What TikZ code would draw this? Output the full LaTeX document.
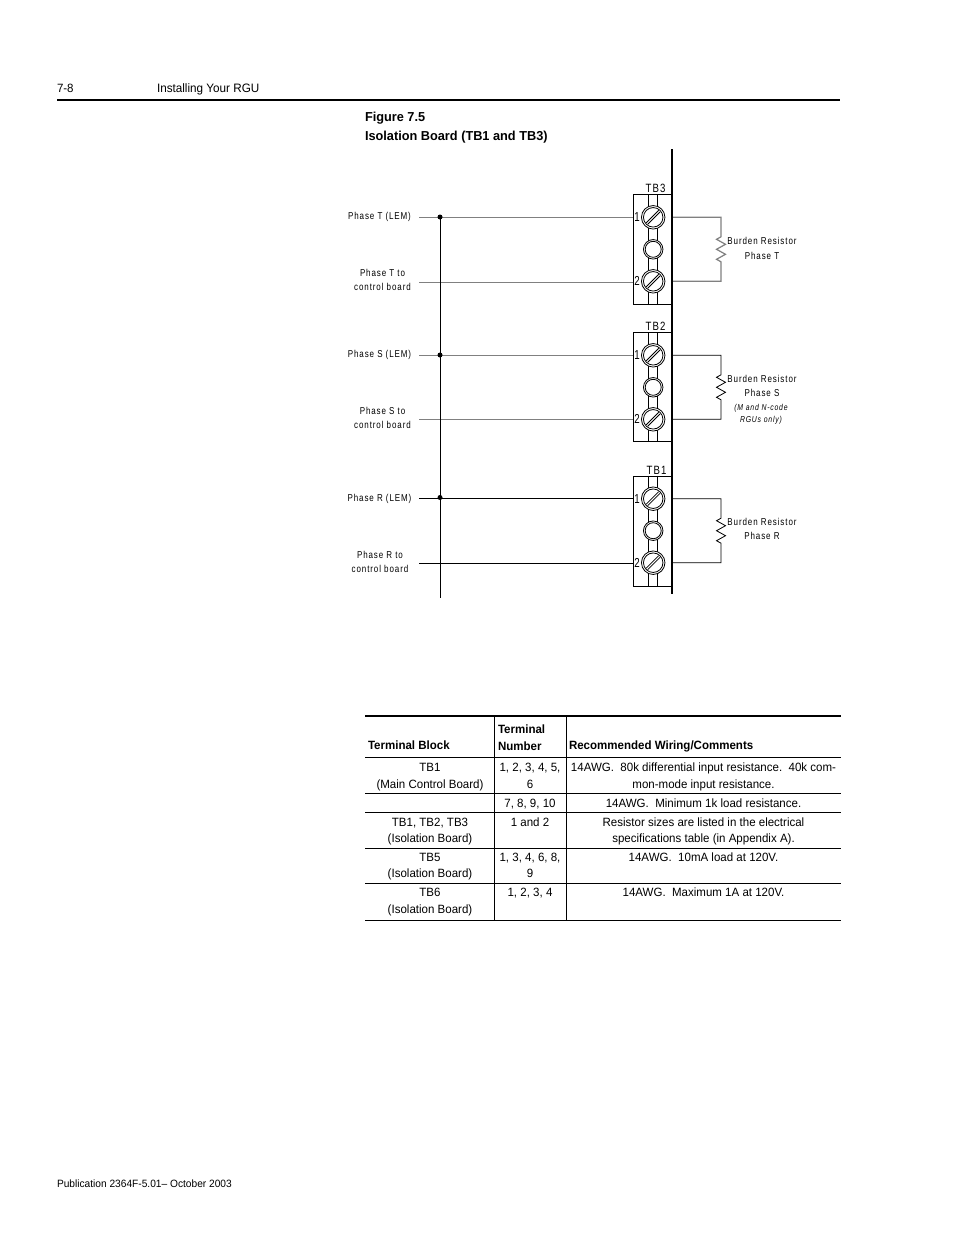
\documentclass[tikz,border=0pt]{standalone}
\usepackage{fontspec}
\setmainfont[FakeStretch=0.96]{Liberation Sans}
\newfontfamily\lblfont[LetterSpace=9,FakeStretch=0.8]{Liberation Sans}
\newfontfamily\numfont[FakeStretch=0.75]{Liberation Sans}
\newfontfamily\ttlfont[FakeStretch=0.98]{Liberation Sans}
\newcommand{\lblsize}{\fontsize{10}{14}\selectfont\lblfont}
\tikzset{
  txt/.style={inner sep=0pt,outer sep=0pt,font=\fontsize{12}{12}\selectfont},
  ctxt/.style={txt,anchor=base},
  ltxt/.style={txt,anchor=base west},
  btxt/.style={ltxt,font=\fontsize{12}{12}\selectfont\bfseries},
  ttl/.style={ltxt,font=\fontsize{13}{13}\selectfont\ttlfont\bfseries},
  lbl/.style={inner sep=0pt,anchor=base,align=center,font=\lblsize},
  tbl/.style={inner sep=0pt,anchor=base,font=\fontsize{12}{12}\selectfont\lblfont},
  num/.style={inner sep=0pt,anchor=base,font=\fontsize{13}{13}\selectfont\numfont},
  wire/.style={line width=0.8pt,black},
  gwire/.style={line width=1.2pt,black!50},
  rule/.style={line width=0.9pt,black},
  dotn/.style={circle,fill=black,inner sep=0pt,minimum size=5pt},
  screwo/.style={circle,draw=black,line width=0.8pt,fill=white,inner sep=0pt,minimum size=23.5pt},
  screwm/.style={circle,draw=black,line width=0.8pt,fill=white,inner sep=0pt,minimum size=19.5pt},
  screwi/.style={circle,draw=black,line width=0.8pt,fill=white,inner sep=0pt,minimum size=16pt},
  boxn/.style={draw=black,line width=0.9pt,fill=white,inner sep=0pt,minimum width=39pt,minimum height=#1,anchor=north west},
}
% \tblock{id}{top}{name}{right wire style}{name x}{height}
\newcommand{\tblock}[6]{%
  \node[boxn=#6] (b#1) at (632.7,#2) {};
  \draw[wire] (648.3,#2) -- ++(0,#6) (657.3,#2) -- ++(0,#6);
  \node[screwo] (sa#1) at (653.2,#2+23) {};
  \node[screwm] (sm#1) at (653.2,#2+55) {};
  \node[screwi] at (sm#1) {};
  \node[screwo] (sb#1) at (653.2,#2+87) {};
  \node[screwm] at (sa#1) {};
  \node[screwm] at (sb#1) {};
  \foreach \s in {sa#1,sb#1} {
    \draw[wire] ([shift={(-7,5.5)}]\s.center) -- ([shift={(5.5,-7)}]\s.center);
    \draw[wire] ([shift={(-5.5,7)}]\s.center) -- ([shift={(7,-5.5)}]\s.center);
  }
  \node[num] at (637.2,#2+27.5) {1};
  \node[num] at (637.2,#2+91.5) {2};
  \node[tbl] at (#5,#2-1.6) {#3};
  \coordinate (ra#1) at (721,#2+23);
  \coordinate (rb#1) at (721,#2+87);
  \draw[#4] (671,#2+23) -- (ra#1) -- ++(0,19.5) -- ++(-4.5,2.5) -- ++(9,5) -- ++(-9,5) -- ++(9,5) -- ++(-9,5) -- ++(4.5,2.5) -- (rb#1) -- (671,#2+87);
}
\begin{document}
\begin{tikzpicture}[x=1pt,y=-1pt]
\useasboundingbox (0,0) rectangle (954,1235);
\fill[white] (0,0) rectangle (954,1235);
% page header
\node[ltxt] (pg) at (57,92.5) {7-8};
\node[ltxt,font=\fontsize{12.2}{12}\selectfont] (hd) at (157,92.5) {Installing Your RGU};
\draw[line width=1.6pt] (57,100) -- (840,100);
\node[ttl] (f1) at (365,121) {Figure 7.5};
\node[ttl] (f2) at (365,140) {Isolation Board (TB1 and TB3)};
% vertical bus and bar
\coordinate (bustop) at (440,217);
\coordinate (busbot) at (440,598);
\tblock{3}{194.3}{TB3}{gwire}{655.5}{110}
\tblock{2}{332.3}{TB2}{wire}{655.5}{109}
\tblock{1}{475.7}{TB1}{wire}{656.5}{110}
\draw[line width=2.4pt] (672,149) -- (672,594);
% left wires
\coordinate (l1) at (419,217);
\coordinate (l2) at (419,282);
\coordinate (l3) at (419,355);
\coordinate (l4) at (419,419);
\coordinate (l5) at (419,498);
\coordinate (l6) at (419,563);
\draw[gwire,line width=1pt] (l1) -- (b3.west |- l1);
\draw[gwire,line width=1pt] (l2) -- (b3.west |- l2);
\draw[gwire,line width=1pt] (l3) -- (b2.west |- l3);
\draw[gwire,line width=1pt] (l4) -- (b2.west |- l4);
\draw[wire] (l5) -- (b1.west |- l5);
\draw[wire] (l6) -- (b1.west |- l6);
\draw[line width=1pt] (bustop) -- (busbot);
\node[dotn] (d1) at (440,217) {};
\node[dotn] (d2) at (440,355) {};
\node[dotn] (d3) at (440,497.5) {};
% labels left
\node[lbl] (a1) at (379.5,219.5) {Phase T (LEM)};
\node[lbl] (a2) at (382.5,276.5) {Phase T to};
\node[lbl] (a3) at (382.5,290.5) {control board};
\node[lbl] (a4) at (379.5,357.5) {Phase S (LEM)};
\node[lbl] (a5) at (382.5,414.5) {Phase S to};
\node[lbl] (a6) at (382.5,428.5) {control board};
\node[lbl] (a7) at (379.5,501) {Phase R (LEM)};
\node[lbl] (a8) at (380,558.5) {Phase R to};
\node[lbl] (a9) at (380,572.5) {control board};
% labels right
\node[lbl] (r1) at (762,244.5) {Burden Resistor};
\node[lbl] (r2) at (762,259.5) {Phase T};
\node[lbl] (r3) at (762,382.5) {Burden Resistor};
\node[lbl] (r4) at (762,396.5) {Phase S};
\node[inner sep=0pt,anchor=base,font=\fontsize{8.6}{10}\selectfont\itshape\lblfont] (r5) at (761,410) {(M and N-code};
\node[inner sep=0pt,anchor=base,font=\fontsize{8.6}{10}\selectfont\itshape\lblfont] (r6) at (761,422) {RGUs only)};
\node[lbl] (r7) at (762,525.5) {Burden Resistor};
\node[lbl] (r8) at (762,539.5) {Phase R};
% table
\draw[line width=1.6pt] (365,716) -- (841,716);
\foreach \yy in {757,793.5,812,848.5,883,920} \draw[rule] (365,\yy) -- (841,\yy);
\draw[rule] (494.5,716) -- (494.5,920);
\draw[rule] (566.3,716) -- (566.3,920);
\node[btxt] at (368,749) {Terminal Block};
\node[btxt] at (498,733) {Terminal};
\node[btxt] at (498,750) {Number};
\node[btxt] at (569,749) {Recommended Wiring/Comments};
\node[ctxt] at (430,771) {TB1};
\node[ctxt] at (430,788) {(Main Control Board)};
\node[ctxt] at (530,771) {1, 2, 3, 4, 5,};
\node[ctxt] at (530,788) {6};
\node[ctxt] at (703.5,771) {14AWG.\ \ 80k differential input resistance.\ \ 40k com-};
\node[ctxt] at (703.5,788) {mon-mode input resistance.};
\node[ctxt] at (530,807) {7, 8, 9, 10};
\node[ctxt] at (703.5,807) {14AWG.\ \ Minimum 1k load resistance.};
\node[ctxt] at (430,826) {TB1, TB2, TB3};
\node[ctxt] at (430,842.5) {(Isolation Board)};
\node[ctxt] at (530,826) {1 and 2};
\node[ctxt] at (703.5,826) {Resistor sizes are listed in the electrical};
\node[ctxt] at (703.5,842.5) {specifications table (in Appendix A).};
\node[ctxt] at (430,861) {TB5};
\node[ctxt] at (430,877.5) {(Isolation Board)};
\node[ctxt] at (530,861) {1, 3, 4, 6, 8,};
\node[ctxt] at (530,877.5) {9};
\node[ctxt] at (703.5,861) {14AWG.\ \ 10mA load at 120V.};
\node[ctxt] at (430,896.5) {TB6};
\node[ctxt] at (430,913.5) {(Isolation Board)};
\node[ctxt] at (530,896.5) {1, 2, 3, 4};
\node[ctxt] at (703.5,896.5) {14AWG.\ \ Maximum 1A at 120V.};
% footer
\node[ltxt,font=\fontsize{10.6}{12}\selectfont] (ft) at (57,1187) {Publication 2364F-5.01– October 2003};
\end{tikzpicture}
\end{document}
